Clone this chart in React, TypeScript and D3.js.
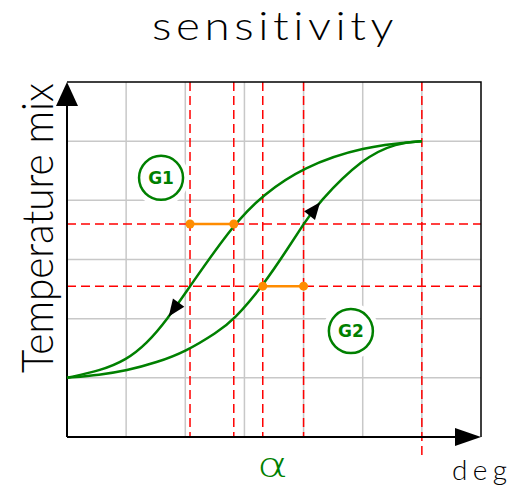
import React, { useRef, useEffect } from "react";
import * as d3 from "d3";

// curve G1 (upper, falling branch) and G2 (lower, rising branch)
const g1X = [0, 0.56, 1.0, 1.35, 1.69, 2.08, 2.82, 3.31, 3.99, 5.0, 6];
const g1Y = [1, 1.12, 1.3, 1.58, 1.98, 2.55, 3.6, 4.09, 4.56, 4.91, 5];
const g2X = [0, 0.56, 1.0, 1.52, 2.0, 2.54, 2.82, 3.31, 3.77, 4.0, 4.24, 5.0, 5.58, 6];
const g2Y = [1, 1.05, 1.12, 1.26, 1.44, 1.77, 1.98, 2.55, 3.24, 3.6, 3.95, 4.72, 4.97, 5];

// red dashed reference lines
const refX = [2.08, 2.82, 3.31, 4.0, 6.0];
const refY = [3.6, 2.55];

// orange hysteresis widths: [y, xFrom, xTo]
const spans = [
  [3.6, 2.08, 2.82],
  [2.55, 3.31, 4.0],
];

// circled labels
const labelNames = ["G1", "G2"];
const labelX = [1.59, 4.8];
const labelY = [4.38, 1.79];

// arrowheads: tip x on curve, direction along curve
const arrowTipX = [1.72, 4.28];
const arrowDir = [-1, 1];

const xTicks = [1, 2, 3, 4, 5, 6];
const yTicks = [1, 2, 3, 4, 5];

const GREEN = "#008000";
const FONT = "'DejaVu Sans', sans-serif";
const THIN = "Lato, 'DejaVu Sans', sans-serif";

export default function App() {
  const svgRef = useRef<SVGSVGElement>(null);
  const width = 507;
  const height = 490;
  const margin = { top: 82, right: 26, bottom: 53, left: 67 };

  useEffect(() => {
    const svg = d3.select(svgRef.current);
    svg.selectAll("*").remove();

    const x = d3.scaleLinear().domain([0, 7]).range([margin.left, width - margin.right]);
    const y = d3.scaleLinear().domain([0, 6]).range([height - margin.bottom, margin.top]);
    const [x0, x1] = x.range();
    const [y0, y1] = y.range();

    // grid
    svg
      .append("g")
      .selectAll("line")
      .data(xTicks)
      .enter()
      .append("line")
      .attr("x1", (d) => x(d))
      .attr("x2", (d) => x(d))
      .attr("y1", y0)
      .attr("y2", y1)
      .attr("stroke", "#c8c8c8")
      .attr("stroke-width", 1.5);
    svg
      .append("g")
      .selectAll("line")
      .data(yTicks)
      .enter()
      .append("line")
      .attr("x1", x0)
      .attr("x2", x1)
      .attr("y1", (d) => y(d))
      .attr("y2", (d) => y(d))
      .attr("stroke", "#c8c8c8")
      .attr("stroke-width", 1.5);

    // red dashed lines
    svg
      .append("g")
      .selectAll("line")
      .data(refX)
      .enter()
      .append("line")
      .attr("x1", (d) => x(d))
      .attr("x2", (d) => x(d))
      .attr("y1", y1)
      .attr("y2", (d, i) => (i === refX.length - 1 ? y0 + 21 : y0))
      .attr("stroke", "#ff0000")
      .attr("stroke-width", 1.5)
      .attr("stroke-dasharray", "9 5");
    svg
      .append("g")
      .selectAll("line")
      .data(refY)
      .enter()
      .append("line")
      .attr("x1", x0)
      .attr("x2", x1)
      .attr("y1", (d) => y(d))
      .attr("y2", (d) => y(d))
      .attr("stroke", "#ff0000")
      .attr("stroke-width", 1.5)
      .attr("stroke-dasharray", "9 5");

    // frame
    const frame = svg.append("g").attr("stroke", "#000").attr("fill", "none");
    frame.append("path").attr("d", `M${x0},${y1}H${x1}V${y0}`).attr("stroke-width", 1.5);
    frame.append("path").attr("d", `M${x0},${y0}V${y1 + 20}M${x0},${y0}H${x1 - 20}`).attr("stroke-width", 2);
    svg
      .append("path")
      .attr("d", `M${x0},${y1}L${x0 - 11},${y1 + 24}L${x0 + 11},${y1 + 24}Z`)
      .attr("fill", "#000");
    svg
      .append("path")
      .attr("d", `M${x1},${y0}L${x1 - 26},${y0 - 9}L${x1 - 26},${y0 + 9}Z`)
      .attr("fill", "#000");

    // curves
    const line = d3
      .line<[number, number]>()
      .x((d) => x(d[0]))
      .y((d) => y(d[1]))
      .curve(d3.curveBasis);
    const curves = [
      g1X.map((v, i) => [v, g1Y[i]] as [number, number]),
      g2X.map((v, i) => [v, g2Y[i]] as [number, number]),
    ];
    const paths = curves.map((pts) =>
      svg
        .append("path")
        .attr("d", line(pts))
        .attr("fill", "none")
        .attr("stroke", GREEN)
        .attr("stroke-width", 2.5)
        .node() as SVGPathElement
    );

    // arrowheads along curves
    paths.forEach((p, i) => {
      const total = p.getTotalLength();
      const target = x(arrowTipX[i]);
      let lo = 0;
      let hi = total;
      for (let k = 0; k < 40; k++) {
        const mid = (lo + hi) / 2;
        if (p.getPointAtLength(mid).x < target) lo = mid;
        else hi = mid;
      }
      const tip = p.getPointAtLength(lo);
      const back = p.getPointAtLength(Math.max(0, Math.min(total, lo - arrowDir[i] * 17)));
      const dx = tip.x - back.x;
      const dy = tip.y - back.y;
      const len = Math.hypot(dx, dy);
      const nx = (-dy / len) * 7;
      const ny = (dx / len) * 7;
      svg
        .append("path")
        .attr("d", `M${tip.x},${tip.y}L${back.x + nx},${back.y + ny}L${back.x - nx},${back.y - ny}Z`)
        .attr("fill", "#000");
    });

    // orange spans
    const sp = svg.append("g");
    spans.forEach(([yy, xa, xb]) => {
      sp.append("line")
        .attr("x1", x(xa))
        .attr("x2", x(xb))
        .attr("y1", y(yy))
        .attr("y2", y(yy))
        .attr("stroke", "#ff8c00")
        .attr("stroke-width", 2.5);
      [xa, xb].forEach((xv) =>
        sp.append("circle").attr("cx", x(xv)).attr("cy", y(yy)).attr("r", 4.5).attr("fill", "#ff8c00")
      );
    });

    // circled labels
    labelNames.forEach((name, i) => {
      const cx = x(labelX[i]);
      const cy = y(labelY[i]);
      svg.append("circle").attr("cx", cx).attr("cy", cy).attr("r", 28).attr("fill", "#fff");
      svg
        .append("circle")
        .attr("cx", cx)
        .attr("cy", cy)
        .attr("r", 22)
        .attr("fill", "none")
        .attr("stroke", GREEN)
        .attr("stroke-width", 2.5);
      svg
        .append("text")
        .attr("x", cx)
        .attr("y", cy + 6)
        .attr("text-anchor", "middle")
        .attr("font-family", FONT)
        .attr("font-weight", "bold")
        .attr("font-size", 17)
        .attr("fill", GREEN)
        .text(name);
    });

    // texts
    svg
      .append("text")
      .attr("x", 275)
      .attr("y", 40)
      .attr("text-anchor", "middle")
      .attr("font-family", THIN)
      .attr("font-weight", 300)
      .attr("font-size", 40)
      .attr("letter-spacing", 4)
      .attr("textLength", 246)
      .attr("lengthAdjust", "spacingAndGlyphs")
      .text("sensitivity");
    svg
      .append("text")
      .attr("transform", `translate(53,228) rotate(-90)`)
      .attr("text-anchor", "middle")
      .attr("font-family", THIN)
      .attr("font-weight", 300)
      .attr("font-size", 44)
      .attr("textLength", 290)
      .attr("lengthAdjust", "spacingAndGlyphs")
      .text("Temperature mix");
    svg
      .append("text")
      .attr("x", 452)
      .attr("y", 480)
      .attr("font-family", THIN)
      .attr("font-weight", 300)
      .attr("font-size", 28)
      .attr("textLength", 55)
      .attr("lengthAdjust", "spacing")
      .text("deg");
    svg
      .append("text")
      .attr("x", 257)
      .attr("y", 477)
      .attr("font-family", FONT)
      .attr("font-weight", 200)
      .attr("font-size", 34)
      .attr("textLength", 31)
      .attr("lengthAdjust", "spacingAndGlyphs")
      .attr("fill", GREEN)
      .text("α");
  }, []);

  return (
    <svg
      ref={svgRef}
      width={width}
      height={height}
      style={{ position: "absolute", left: 0, top: 0, background: "#fff" }}
    />
  );
}
